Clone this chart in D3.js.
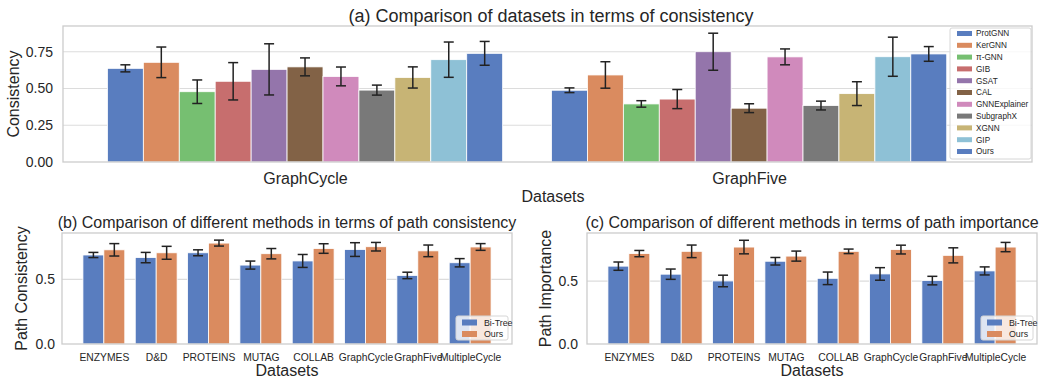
<!DOCTYPE html>
<html>
<head>
<meta charset="utf-8">
<script src="https://cdn.jsdelivr.net/npm/d3@7"></script>
<style>
  body { margin: 0; background: #fff; }
  svg { font-family: "Liberation Sans", Arial, sans-serif; }
  text { fill: #262626; }
</style>
</head>
<body>
<svg id="chart" width="1050" height="379"></svg>
<script>
// ---- data ----
const methods = ["ProtGNN", "KerGNN", "π-GNN", "GIB", "GSAT", "CAL", "GNNExplainer", "SubgraphX", "XGNN", "GIP", "Ours"];
const topDatasets = ["GraphCycle", "GraphFive"];
// consistency per method, [GraphCycle, GraphFive]
const consGraphCycle = [0.637, 0.678, 0.478, 0.549, 0.630, 0.647, 0.582, 0.489, 0.575, 0.696, 0.739];
const consGraphFive  = [0.488, 0.592, 0.395, 0.428, 0.750, 0.366, 0.715, 0.384, 0.465, 0.716, 0.735];
const errGraphCycle  = [0.024, 0.104, 0.080, 0.127, 0.174, 0.061, 0.064, 0.034, 0.072, 0.120, 0.081];
const errGraphFive   = [0.016, 0.090, 0.022, 0.065, 0.126, 0.030, 0.054, 0.030, 0.081, 0.133, 0.050];
const topTicks = [0, 0.25, 0.5, 0.75];

const pathDatasets = ["ENZYMES", "D&D", "PROTEINS", "MUTAG", "COLLAB", "GraphCycle", "GraphFive", "MultipleCycle"];
const pathMethods = ["Bi-Tree", "Ours"];
const pcBiTree    = [0.688, 0.668, 0.705, 0.610, 0.642, 0.730, 0.530, 0.628];
const pcOurs      = [0.728, 0.705, 0.780, 0.698, 0.738, 0.752, 0.720, 0.750];
const pcBiTreeErr = [0.020, 0.040, 0.023, 0.031, 0.050, 0.053, 0.025, 0.032];
const pcOursErr   = [0.048, 0.050, 0.023, 0.040, 0.037, 0.033, 0.045, 0.026];
const piBiTree    = [0.620, 0.556, 0.502, 0.659, 0.523, 0.558, 0.505, 0.582];
const piOurs      = [0.720, 0.738, 0.772, 0.700, 0.738, 0.752, 0.706, 0.772];
const piBiTreeErr = [0.033, 0.041, 0.046, 0.030, 0.050, 0.050, 0.034, 0.032];
const piOursErr   = [0.025, 0.050, 0.054, 0.040, 0.018, 0.035, 0.060, 0.037];
const bottomTicks = [0, 0.5];

// seaborn "muted" at 0.75 saturation
const palette = ["#597dbf", "#da8b5f", "#76bf71", "#c76e6e", "#9475ab", "#826246", "#d08abc", "#797979", "#c7b475", "#8ec1d6", "#597dbf"];

const svg = d3.select("#chart");

function panel(o) {
  const g = svg.append("g");
  const x = d3.scaleLinear().domain(o.xDomain).range([o.left, o.right]);
  const y = d3.scaleLinear().domain(o.yDomain).range([o.bottom, o.top]);

  // grid
  g.selectAll(null).data(o.ticks.filter(t => t > 0)).enter().append("line")
    .attr("x1", o.left).attr("x2", o.right)
    .attr("y1", d => y(d)).attr("y2", d => y(d))
    .attr("stroke", "#dcdcdc").attr("stroke-width", 1.2);

  const groupPx = x(o.groupWidth) - x(0);
  const inner = d3.scaleBand().domain(o.series).range([-groupPx / 2, groupPx / 2]);

  o.series.forEach((s, si) => {
    g.selectAll(null).data(o.values[si]).enter().append("rect")
      .attr("x", (d, i) => x(i) + inner(s))
      .attr("width", inner.bandwidth())
      .attr("y", d => y(d))
      .attr("height", d => y(0) - y(d))
      .attr("fill", o.colors[si])
      .attr("stroke", "#fff").attr("stroke-width", 0.8);
  });

  // error bars
  o.series.forEach((s, si) => {
    const vals = o.values[si], errs = o.errs[si];
    const eg = g.selectAll(null).data(vals).enter().append("g")
      .attr("stroke", "#222").attr("stroke-width", 1.5);
    const cx = i => x(i) + inner(s) + inner.bandwidth() / 2;
    eg.append("line")
      .attr("x1", (d, i) => cx(i)).attr("x2", (d, i) => cx(i))
      .attr("y1", (d, i) => y(d - errs[i])).attr("y2", (d, i) => y(d + errs[i]));
    eg.append("line")
      .attr("x1", (d, i) => cx(i) - 5).attr("x2", (d, i) => cx(i) + 5)
      .attr("y1", (d, i) => y(d - errs[i])).attr("y2", (d, i) => y(d - errs[i]));
    eg.append("line")
      .attr("x1", (d, i) => cx(i) - 5).attr("x2", (d, i) => cx(i) + 5)
      .attr("y1", (d, i) => y(d + errs[i])).attr("y2", (d, i) => y(d + errs[i]));
  });

  // frame
  g.append("rect")
    .attr("x", o.left).attr("y", o.top)
    .attr("width", o.right - o.left).attr("height", o.bottom - o.top)
    .attr("fill", "none").attr("stroke", "#cccccc").attr("stroke-width", 1.3);

  // axes
  g.append("g").attr("transform", `translate(${o.left},0)`)
    .call(d3.axisLeft(y).tickValues(o.ticks).tickFormat(o.tickFmt).tickSize(0).tickPadding(o.yPad))
    .call(a => a.select(".domain").remove())
    .attr("font-family", null).attr("font-size", 14);

  g.append("g").attr("transform", `translate(0,${o.bottom})`)
    .call(d3.axisBottom(x).tickValues(d3.range(o.categories.length))
      .tickFormat(i => o.categories[i]).tickSize(0).tickPadding(o.xPad))
    .call(a => a.select(".domain").remove())
    .attr("font-family", null).attr("font-size", o.xFont);

  // labels
  g.append("text").attr("x", o.titleX).attr("y", o.titleY)
    .attr("text-anchor", "middle").attr("font-size", o.titleFont).text(o.title);
  g.append("text").attr("x", o.xLabelX).attr("y", o.xLabelY)
    .attr("text-anchor", "middle").attr("font-size", 16).text("Datasets");
  g.append("text")
    .attr("transform", `translate(${o.yLabelX},${(o.top + o.bottom) / 2}) rotate(-90)`)
    .attr("text-anchor", "middle").attr("font-size", 16).text(o.yLabel);

  // legend
  const L = o.legend;
  const lg = g.append("g");
  lg.append("rect").attr("x", L.x).attr("y", L.y).attr("width", L.w).attr("height", L.h)
    .attr("rx", 2).attr("fill", "#fff").attr("fill-opacity", 0.8)
    .attr("stroke", "#d6d6d6").attr("stroke-width", 1);
  const items = lg.selectAll(null).data(o.series).enter().append("g")
    .attr("transform", (d, i) => `translate(${L.x},${L.y + L.first + i * L.step})`);
  items.append("rect").attr("x", L.px).attr("y", -L.ph / 2).attr("width", 15).attr("height", L.ph)
    .attr("fill", (d, i) => o.colors[i]);
  items.append("text").attr("x", L.tx).attr("dy", "0.35em")
    .attr("font-size", L.font).text(d => d);
}

panel({
  left: 63, right: 1032, top: 26, bottom: 162,
  xDomain: [-0.545, 1.637], yDomain: [0, 0.925], groupWidth: 0.89,
  categories: topDatasets, series: methods,
  values: methods.map((m, i) => [consGraphCycle[i], consGraphFive[i]]),
  errs: methods.map((m, i) => [errGraphCycle[i], errGraphFive[i]]),
  colors: palette,
  ticks: topTicks, tickFmt: d3.format(".2f"), yPad: 10,
  xPad: 10.5, xFont: 16,
  title: "(a) Comparison of datasets in terms of consistency", titleX: 551, titleY: 22, titleFont: 18,
  xLabelX: 553, xLabelY: 202, yLabel: "Consistency", yLabelX: 19,
  legend: { x: 950, y: 28, w: 81, h: 131, first: 5.5, step: 11.8, px: 7, ph: 5, tx: 26, font: 8.2 }
});

panel({
  left: 62, right: 512, top: 233, bottom: 344,
  xDomain: [-0.8, 7.8], yDomain: [0, 0.858], groupWidth: 0.8,
  categories: pathDatasets, series: pathMethods,
  values: [pcBiTree, pcOurs], errs: [pcBiTreeErr, pcOursErr],
  colors: [palette[0], palette[1]],
  ticks: bottomTicks, tickFmt: d3.format(".1f"), yPad: 7,
  xPad: 10, xFont: 10.3,
  title: "(b) Comparison of different methods in terms of path consistency", titleX: 287, titleY: 228, titleFont: 16,
  xLabelX: 287, xLabelY: 376, yLabel: "Path Consistency", yLabelX: 27,
  legend: { x: 456, y: 316, w: 52, h: 24, first: 6.5, step: 11.5, px: 6, ph: 6, tx: 28, font: 8.8 }
});

panel({
  left: 587, right: 1037, top: 233, bottom: 344,
  xDomain: [-0.8, 7.8], yDomain: [0, 0.884], groupWidth: 0.8,
  categories: pathDatasets, series: pathMethods,
  values: [piBiTree, piOurs], errs: [piBiTreeErr, piOursErr],
  colors: [palette[0], palette[1]],
  ticks: bottomTicks, tickFmt: d3.format(".1f"), yPad: 9,
  xPad: 10, xFont: 10.3,
  title: "(c) Comparison of different methods in terms of path importance", titleX: 812, titleY: 228, titleFont: 16,
  xLabelX: 812, xLabelY: 376, yLabel: "Path Importance", yLabelX: 551,
  legend: { x: 981, y: 316, w: 52, h: 24, first: 6.5, step: 11.5, px: 6, ph: 6, tx: 28, font: 8.8 }
});
</script>
</body>
</html>
